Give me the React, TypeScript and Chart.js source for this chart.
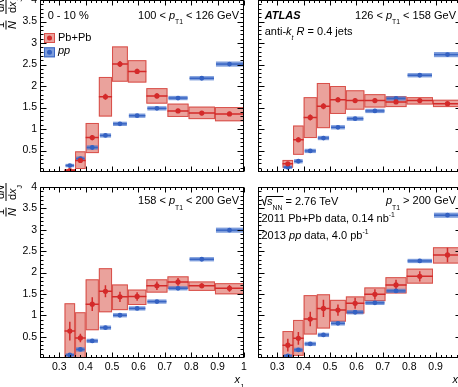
import React, { useEffect, useRef } from 'react';
import { Chart, registerables } from 'chart.js';
Chart.register(...registerables);

const FONT = '"Liberation Sans", Arial, Helvetica, sans-serif';
const TXT = 11;
const TICK_FS = 10.5;

// ---------- data ----------
const binEdges = [0.32, 0.36, 0.4, 0.45, 0.5, 0.56, 0.63, 0.71, 0.79, 0.89, 1.0];
const binCenters = [0.34, 0.38, 0.425, 0.475, 0.53, 0.595, 0.67, 0.75, 0.84, 0.945];
const xTickValues = [0.3, 0.4, 0.5, 0.6, 0.7, 0.8, 0.9, 1];
const yTickValues = [0.5, 1, 1.5, 2, 2.5, 3, 3.5, 4];
const X_MIN = 0.227;
const X_MAX = 1.0;
const Y_MIN = 0;
const Y_MAX = 4;

// 100 < pT1 < 126 GeV
const pbpb100 = [0.03, 0.27, 0.8, 1.75, 2.51, 2.34, 1.77, 1.42, 1.37, 1.35];
const pbpb100SysLo = [0.0, 0.07, 0.44, 1.29, 2.1, 2.08, 1.59, 1.28, 1.23, 1.18];
const pbpb100SysHi = [0.07, 0.48, 1.14, 2.21, 2.92, 2.6, 1.95, 1.59, 1.52, 1.51];
const pbpb100Stat = [0.03, 0.05, 0.06, 0.07, 0.07, 0.06, 0.06, 0.05, 0.05, 0.05];
const pp100 = [0.15, 0.31, 0.57, 0.85, 1.12, 1.31, 1.48, 1.72, 2.18, 2.51];
const pp100Sys = [0.04, 0.05, 0.05, 0.05, 0.05, 0.05, 0.05, 0.05, 0.05, 0.06];

// 126 < pT1 < 158 GeV
const pbpb126 = [0.19, 0.75, 1.27, 1.53, 1.68, 1.66, 1.66, 1.63, 1.66, 1.59];
const pbpb126SysLo = [0.1, 0.4, 0.79, 1.02, 1.35, 1.45, 1.5, 1.51, 1.57, 1.51];
const pbpb126SysHi = [0.28, 1.08, 1.74, 2.07, 2.0, 1.9, 1.81, 1.76, 1.74, 1.68];
const pbpb126Stat = [0.04, 0.06, 0.07, 0.07, 0.06, 0.05, 0.05, 0.05, 0.04, 0.04];
const pp126 = [0.11, 0.25, 0.49, 0.79, 1.04, 1.24, 1.42, 1.71, 2.25, 2.73];
const pp126Sys = [0.04, 0.05, 0.05, 0.05, 0.05, 0.05, 0.05, 0.05, 0.05, 0.06];

// 158 < pT1 < 200 GeV
const pbpb158 = [0.63, 0.47, 1.26, 1.56, 1.43, 1.44, 1.69, 1.78, 1.69, 1.63];
const pbpb158SysLo = [0.0, 0.0, 0.65, 1.07, 1.12, 1.24, 1.53, 1.62, 1.57, 1.49];
const pbpb158SysHi = [1.28, 1.07, 1.84, 2.1, 1.72, 1.6, 1.84, 1.91, 1.79, 1.75];
const pbpb158Stat = [0.22, 0.1, 0.16, 0.14, 0.12, 0.1, 0.1, 0.09, 0.06, 0.08];
const pp158 = [0.07, 0.2, 0.4, 0.71, 1.0, 1.16, 1.32, 1.63, 2.31, 2.99];
const pp158Sys = [0.04, 0.05, 0.05, 0.05, 0.05, 0.05, 0.05, 0.05, 0.05, 0.06];

// pT1 > 200 GeV
const pbpb200 = [0.3, 0.46, 0.91, 1.16, 1.12, 1.28, 1.49, 1.71, 1.91, 2.41];
const pbpb200SysLo = [0.0, 0.05, 0.55, 0.69, 0.85, 1.04, 1.33, 1.51, 1.74, 2.21];
const pbpb200SysHi = [0.63, 0.89, 1.47, 1.49, 1.36, 1.44, 1.65, 1.89, 2.09, 2.59];
const pbpb200Stat = [0.15, 0.15, 0.17, 0.2, 0.13, 0.13, 0.12, 0.12, 0.12, 0.17];
const pp200 = [0.05, 0.19, 0.33, 0.54, 0.81, 1.07, 1.29, 1.57, 2.27, 3.34];
const pp200Sys = [0.04, 0.05, 0.05, 0.05, 0.05, 0.05, 0.05, 0.05, 0.05, 0.06];

// ---------- styles ----------
const RED = '#d42a2a';
const RED_FILL = 'rgba(220, 100, 90, 0.6)';
const RED_EDGE = '#d9504a';
const BLUE = '#3461c2';
const BLUE_FILL = 'rgba(70, 115, 205, 0.7)';
const BLUE_EDGE = '#3a66c4';

type Seg = { t: string; i?: boolean; b?: boolean; sub?: boolean; sup?: boolean };
type Label = { x: number; y: number; segs: Seg[]; align?: 'left' | 'right' };

function segFont(s: Seg, size: number) {
  const fs = s.sub || s.sup ? size * 0.62 : size;
  return `${s.i ? 'italic ' : ''}${s.b ? 'bold ' : ''}${fs}px ${FONT}`;
}

function drawRich(ctx: CanvasRenderingContext2D, x: number, y: number, segs: Seg[], size: number, align: 'left' | 'right' = 'left') {
  let total = 0;
  const parts = segs.map((s) => {
    const font = segFont(s, size);
    ctx.font = font;
    const w = ctx.measureText(s.t).width;
    total += w;
    return { s, font, w };
  });
  let cx = align === 'right' ? x - total : x;
  ctx.textAlign = 'left';
  ctx.textBaseline = 'alphabetic';
  for (const p of parts) {
    ctx.font = p.font;
    const dy = p.s.sub ? size * 0.5 : p.s.sup ? -size * 0.45 : 0;
    ctx.fillText(p.s.t, cx, y + dy);
    cx += p.w;
  }
  return total;
}

interface Panel {
  key: string;
  left: number; top: number; right: number; bottom: number;
  pbpb: number[]; lo: number[]; hi: number[]; stat: number[];
  pp: number[]; ppSys: number[];
  xLabels: boolean; yLabels: boolean;
  texts: Label[];
  legend?: boolean; sqrt?: boolean; yTitle?: boolean; xTitle?: boolean;
}

const sub = (t: string): Seg => ({ t, sub: true });
const it = (t: string): Seg => ({ t, i: true });

const panels: Panel[] = [
  {
    key: 'tl', left: 40, top: 0, right: 244, bottom: 172,
    pbpb: pbpb100, lo: pbpb100SysLo, hi: pbpb100SysHi, stat: pbpb100Stat, pp: pp100, ppSys: pp100Sys,
    xLabels: false, yLabels: true, legend: true, yTitle: true,
    texts: [
      { x: 47.7, y: 18.5, segs: [{ t: '0 - 10 %' }] },
      { x: 239, y: 18.5, align: 'right', segs: [{ t: '100 < ' }, it('p'), sub('T1'), { t: ' < 126 GeV' }] },
      { x: 58, y: 41.3, segs: [{ t: 'Pb+Pb' }] },
      { x: 58, y: 53.6, segs: [it('pp')] },
    ],
  },
  {
    key: 'tr', left: 258, top: 0, right: 462, bottom: 172,
    pbpb: pbpb126, lo: pbpb126SysLo, hi: pbpb126SysHi, stat: pbpb126Stat, pp: pp126, ppSys: pp126Sys,
    xLabels: false, yLabels: false,
    texts: [
      { x: 264.7, y: 19, segs: [{ t: 'ATLAS', b: true, i: true }] },
      { x: 456, y: 18.5, align: 'right', segs: [{ t: '126 < ' }, it('p'), sub('T1'), { t: ' < 158 GeV' }] },
      { x: 264.7, y: 34.6, segs: [{ t: 'anti-' }, it('k'), { t: 't', i: true, sub: true }, { t: ' ' }, it('R'), { t: ' = 0.4 jets' }] },
    ],
  },
  {
    key: 'bl', left: 40, top: 187, right: 244, bottom: 358,
    pbpb: pbpb158, lo: pbpb158SysLo, hi: pbpb158SysHi, stat: pbpb158Stat, pp: pp158, ppSys: pp158Sys,
    xLabels: true, yLabels: true, yTitle: true, xTitle: true,
    texts: [
      { x: 239, y: 204, align: 'right', segs: [{ t: '158 < ' }, it('p'), sub('T1'), { t: ' < 200 GeV' }] },
    ],
  },
  {
    key: 'br', left: 258, top: 187, right: 462, bottom: 358,
    pbpb: pbpb200, lo: pbpb200SysLo, hi: pbpb200SysHi, stat: pbpb200Stat, pp: pp200, ppSys: pp200Sys,
    xLabels: true, yLabels: false, sqrt: true, xTitle: true,
    texts: [
      { x: 456, y: 204, align: 'right', segs: [it('p'), sub('T1'), { t: ' > 200 GeV' }] },
      { x: 261.5, y: 222.3, segs: [{ t: '2011 Pb+Pb data, 0.14 nb' }, { t: '-1', sup: true }] },
      { x: 261.5, y: 238.7, segs: [{ t: '2013 ' }, it('pp'), { t: ' data, 4.0 pb' }, { t: '-1', sup: true }] },
    ],
  },
];

const PADL = 45, PADT = 12, PADR = 15, PADB = 35;

function makePlugin(p: Panel, ox: number, oy: number) {
  return {
    id: 'atlas_' + p.key,
    beforeDatasetsDraw(chart: any) {
      const { ctx, chartArea: a } = chart;
      const xs = chart.scales.x, ys = chart.scales.y;
      ctx.save();
      ctx.beginPath();
      ctx.rect(a.left, a.top, a.right - a.left, a.bottom - a.top);
      ctx.clip();
      const n = binCenters.length;
      // Pb+Pb systematic boxes
      for (let i = 0; i < n; i++) {
        const x0 = xs.getPixelForValue(binEdges[i]);
        const x1 = xs.getPixelForValue(binEdges[i + 1]);
        const y0 = ys.getPixelForValue(p.hi[i]);
        const y1 = ys.getPixelForValue(p.lo[i]);
        ctx.fillStyle = RED_FILL;
        ctx.fillRect(x0, y0, x1 - x0, y1 - y0);
        ctx.strokeStyle = RED_EDGE;
        ctx.lineWidth = 1;
        ctx.strokeRect(x0 + 0.5, y0 + 0.5, x1 - x0 - 1, y1 - y0 - 1);
      }
      // pp boxes
      for (let i = 0; i < n; i++) {
        const x0 = xs.getPixelForValue(binEdges[i]);
        const x1 = xs.getPixelForValue(binEdges[i + 1]);
        const y0 = ys.getPixelForValue(p.pp[i] + p.ppSys[i]);
        const y1 = ys.getPixelForValue(p.pp[i] - p.ppSys[i]);
        ctx.fillStyle = BLUE_FILL;
        ctx.fillRect(x0 + 1, y0, x1 - x0 - 2, y1 - y0);
        const yc = ys.getPixelForValue(p.pp[i]);
        ctx.strokeStyle = BLUE_EDGE;
        ctx.lineWidth = 1.5;
        ctx.beginPath();
        ctx.moveTo(x0 + 1, yc);
        ctx.lineTo(x1 - 1, yc);
        ctx.stroke();
      }
      // Pb+Pb lines and stat bars
      for (let i = 0; i < n; i++) {
        const x0 = xs.getPixelForValue(binEdges[i]);
        const x1 = xs.getPixelForValue(binEdges[i + 1]);
        const xc = xs.getPixelForValue(binCenters[i]);
        const yc = ys.getPixelForValue(p.pbpb[i]);
        ctx.strokeStyle = RED;
        ctx.lineWidth = 1.5;
        ctx.beginPath();
        ctx.moveTo(x0, yc);
        ctx.lineTo(x1, yc);
        ctx.moveTo(xc, ys.getPixelForValue(p.pbpb[i] - p.stat[i]));
        ctx.lineTo(xc, ys.getPixelForValue(p.pbpb[i] + p.stat[i]));
        ctx.stroke();
      }
      ctx.restore();
    },
    afterDraw(chart: any) {
      const { ctx, chartArea: a } = chart;
      const xs = chart.scales.x, ys = chart.scales.y;
      ctx.save();
      ctx.strokeStyle = '#000';
      ctx.lineWidth = 1;
      const L = Math.round(a.left) + 0.5, R = Math.round(a.right) - 0.5;
      const T = Math.round(a.top) + 0.5, B = Math.round(a.bottom) - 0.5;
      ctx.strokeRect(L, T, R - L, B - T);
      ctx.beginPath();
      for (let k = 12; k <= 50; k++) {
        const v = k / 50;
        const len = k % 5 === 0 ? 5 : 2.5;
        const px = Math.round(xs.getPixelForValue(v)) + 0.5;
        ctx.moveTo(px, B);
        ctx.lineTo(px, B - len);
        ctx.moveTo(px, T);
        ctx.lineTo(px, T + len);
      }
      for (let k = 1; k < 40; k++) {
        const v = k / 10;
        const len = k % 5 === 0 ? 6 : 3;
        const py = Math.round(ys.getPixelForValue(v)) + 0.5;
        ctx.moveTo(L, py);
        ctx.lineTo(L + len, py);
        ctx.moveTo(R, py);
        ctx.lineTo(R - len, py);
      }
      ctx.stroke();

      ctx.fillStyle = '#000';
      for (const t of p.texts) {
        drawRich(ctx, t.x - ox, t.y - oy, t.segs, TXT, t.align || 'left');
      }

      if (p.sqrt) {
        const bx = 261 - ox, by = 204.5 - oy;
        ctx.font = segFont({ t: 's', i: true }, TXT);
        const ws = ctx.measureText('s').width;
        ctx.font = segFont({ t: 'NN', sub: true }, TXT);
        const wn = ctx.measureText('NN').width;
        const x0 = bx + 5.5;
        ctx.lineWidth = 1;
        ctx.beginPath();
        ctx.moveTo(bx, by - 4);
        ctx.lineTo(bx + 1.5, by - 5);
        ctx.lineTo(bx + 3.5, by + 1);
        ctx.lineTo(x0, by - 8);
        ctx.lineTo(x0 + ws + wn + 1.5, by - 8);
        ctx.stroke();
        drawRich(ctx, x0 + 0.5, by, [it('s'), sub('NN'), { t: ' = 2.76 TeV' }], TXT);
      }

      if (p.legend) {
        const items = [
          { y: 38, fill: RED_FILL, edge: RED_EDGE, c: RED },
          { y: 52.3, fill: BLUE_FILL, edge: BLUE_EDGE, c: BLUE },
        ];
        for (const it2 of items) {
          const x0 = 44 - ox, x1 = 55 - ox, yc = it2.y - oy;
          ctx.fillStyle = it2.fill;
          ctx.fillRect(x0, yc - 5, x1 - x0, 10);
          ctx.strokeStyle = it2.edge;
          ctx.lineWidth = 1;
          ctx.strokeRect(x0 + 0.5, yc - 4.5, x1 - x0 - 1, 9);
          ctx.fillStyle = it2.c;
          ctx.beginPath();
          ctx.arc((x0 + x1) / 2, yc, 2.5, 0, Math.PI * 2);
          ctx.fill();
        }
        ctx.fillStyle = '#000';
      }

      if (p.xTitle) {
        drawRich(ctx, p.right - 0.5 - ox, 383 - oy, [it('x'), sub('J')], TXT, 'right');
      }

      if (p.yTitle) {
        const cx = 6 - ox, cy = p.top + 25 - oy;
        ctx.save();
        ctx.translate(cx, cy);
        ctx.rotate(-Math.PI / 2);
        ctx.fillStyle = '#000';
        ctx.strokeStyle = '#000';
        ctx.lineWidth = 1;
        ctx.textBaseline = 'alphabetic';
        ctx.textAlign = 'center';
        // 1 / N
        ctx.font = `${TXT}px ${FONT}`;
        ctx.fillText('1', 0, -2);
        ctx.font = `italic ${TXT}px ${FONT}`;
        ctx.fillText('N', 0, 10);
        ctx.beginPath();
        ctx.moveTo(-4.5, 0);
        ctx.lineTo(4.5, 0);
        // dN / dx_J
        ctx.moveTo(11, 0);
        ctx.lineTo(29, 0);
        ctx.stroke();
        ctx.textAlign = 'left';
        drawRich(ctx, 13, -2, [{ t: 'd' }, it('N')], TXT);
        drawRich(ctx, 12, 10, [{ t: 'd' }, it('x'), sub('J')], TXT);
        ctx.restore();
      }
      ctx.restore();
    },
  };
}

function PanelChart({ p }: { p: Panel }) {
  const ref = useRef<HTMLCanvasElement>(null);
  const ox = p.left - PADL;
  const oy = p.top - PADT;
  const w = p.right - p.left + PADL + PADR;
  const h = p.bottom - p.top + PADT + PADB;
  useEffect(() => {
    if (!ref.current) return;
    const tickFont = { family: FONT, size: TICK_FS };
    const chart = new Chart(ref.current, {
      type: 'scatter',
      data: {
        datasets: [
          {
            label: 'Pb+Pb',
            data: binCenters.map((x, i) => ({ x, y: p.pbpb[i] })),
            pointRadius: 2.6,
            pointBackgroundColor: RED,
            pointBorderWidth: 0,
            showLine: false,
          },
          {
            label: 'pp',
            data: binCenters.map((x, i) => ({ x, y: p.pp[i] })),
            pointRadius: 2.4,
            pointBackgroundColor: BLUE,
            pointBorderWidth: 0,
            showLine: false,
          },
        ],
      },
      options: {
        animation: false,
        responsive: false,
        devicePixelRatio: 1,
        layout: { padding: { top: PADT, right: PADR, left: 0, bottom: 0 } },
        plugins: { legend: { display: false }, tooltip: { enabled: false } },
        scales: {
          x: {
            type: 'linear',
            min: X_MIN,
            max: X_MAX,
            grid: { display: false, drawTicks: false },
            border: { display: false },
            afterBuildTicks: (s: any) => { s.ticks = xTickValues.map((v) => ({ value: v })); },
            afterFit: (s: any) => { s.height = PADB; },
            ticks: {
              display: p.xLabels, autoSkip: false, maxRotation: 0, minRotation: 0, padding: 3,
              color: '#000', font: tickFont, callback: (v: any) => String(v),
            },
          },
          y: {
            type: 'linear',
            min: Y_MIN,
            max: Y_MAX,
            grid: { display: false, drawTicks: false },
            border: { display: false },
            afterBuildTicks: (s: any) => { s.ticks = yTickValues.map((v) => ({ value: v })); },
            afterFit: (s: any) => { s.width = PADL; },
            ticks: {
              display: p.yLabels, autoSkip: false, padding: 3,
              color: '#000', font: tickFont, callback: (v: any) => String(v),
            },
          },
        },
      } as any,
      plugins: [makePlugin(p, ox, oy) as any],
    });
    return () => chart.destroy();
  }, []);
  return (
    <canvas
      ref={ref}
      width={w}
      height={h}
      style={{ position: 'absolute', left: ox, top: oy, width: w, height: h }}
    />
  );
}

export default function App() {
  return (
    <div style={{ position: 'fixed', left: 0, top: 0, width: 458, height: 387, overflow: 'hidden', background: '#fff' }}>
      {panels.map((p) => (
        <PanelChart key={p.key} p={p} />
      ))}
    </div>
  );
}
